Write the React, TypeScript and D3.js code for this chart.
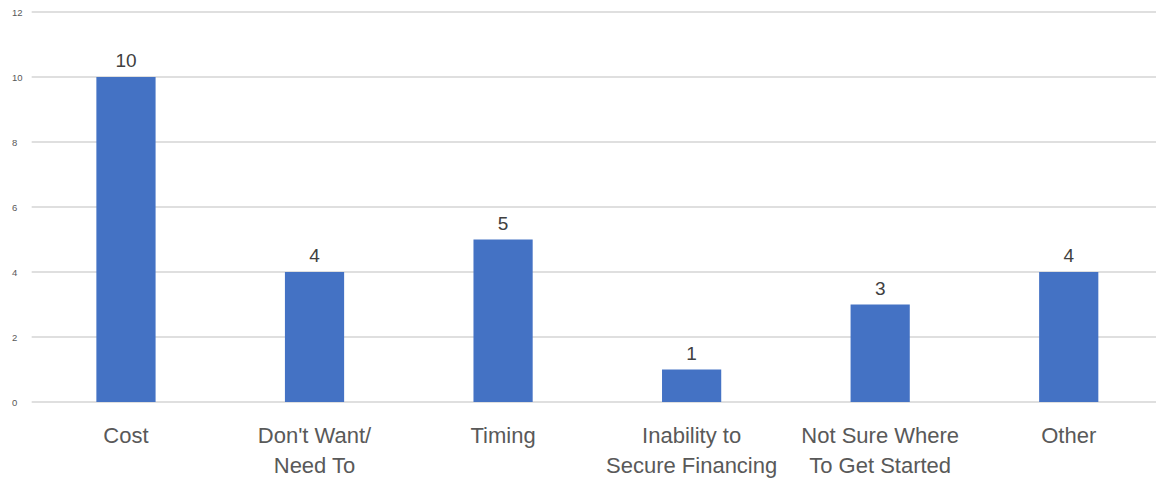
import React from "react";
import * as d3 from "d3";

const categories: string[][] = [
  ["Cost"],
  ["Don't Want/", "Need To"],
  ["Timing"],
  ["Inability to", "Secure Financing"],
  ["Not Sure Where", "To Get Started"],
  ["Other"],
];
const values: number[] = [10, 4, 5, 1, 3, 4];
const yTicks: number[] = [0, 2, 4, 6, 8, 10, 12];

const W = 1156;
const H = 482;
const left = 31.7;
const right = 1163;
const top = 12;
const bottom = 402;

export default function App() {
  const idx = categories.map((_, i) => String(i));
  const x = d3.scaleBand<string>().domain(idx).range([left, right]).paddingInner(0.686).paddingOuter(0.343);
  const y = d3.scaleLinear().domain([0, 12]).range([bottom, top]);
  const font = "'Liberation Sans', Arial, sans-serif";
  return (
    <svg width={W} height={H} style={{ position: "absolute", left: 0, top: 0, background: "#fff" }}>
      {yTicks.map((t) => (
        <g key={t}>
          <line x1={left} x2={W} y1={y(t)} y2={y(t)} stroke="#d4d4d4" strokeWidth={1.5} />
          <text x={12} y={y(t) + 3.5} fontSize={9.5} fill="#595959" fontFamily={font}>{t}</text>
        </g>
      ))}
      {values.map((v, i) => {
        const bx = x(String(i))!;
        const bw = x.bandwidth();
        return (
          <g key={i}>
            <rect x={bx} y={y(v)} width={bw} height={y(0) - y(v)} fill="#4472C4" />
            <text x={bx + bw / 2} y={y(v) - 10} textAnchor="middle" fontSize={19} fill="#404040" fontFamily={font}>{v}</text>
            {categories[i].map((line, j) => (
              <text key={j} x={bx + bw / 2} y={443 + j * 30} textAnchor="middle" fontSize={22} fill="#595959" fontFamily={font}>{line}</text>
            ))}
          </g>
        );
      })}
    </svg>
  );
}
